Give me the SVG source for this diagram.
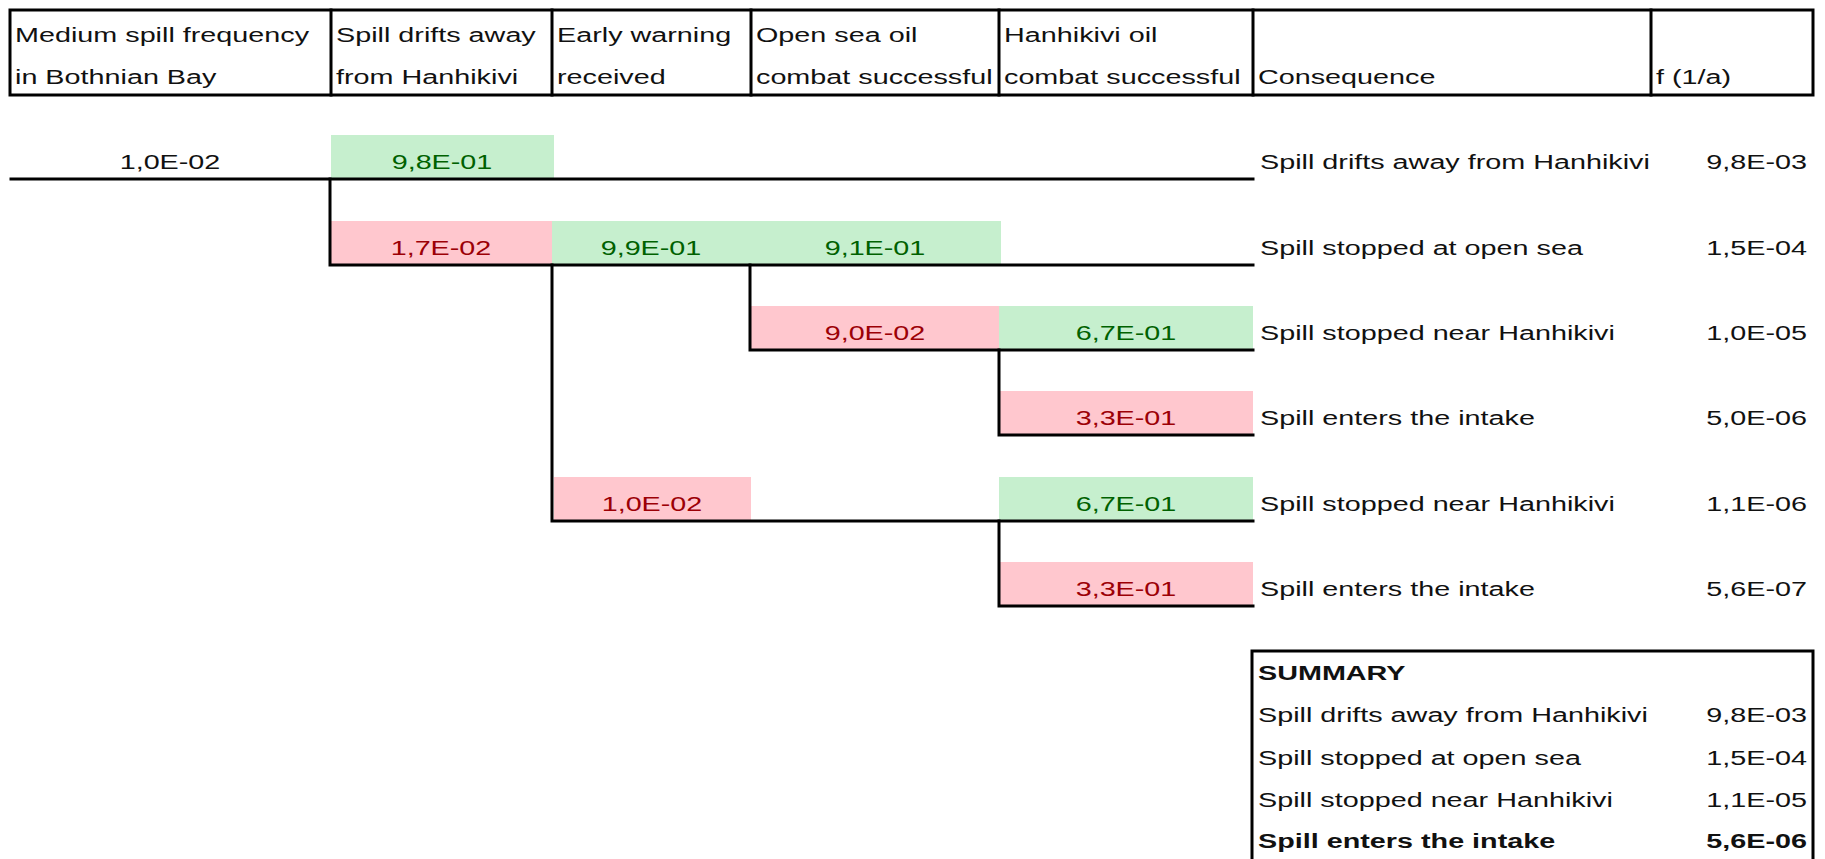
<svg xmlns="http://www.w3.org/2000/svg" width="1825" height="859" viewBox="0 0 1825 859">
<style>
.t{font-family:"Liberation Sans",Arial,sans-serif;font-size:21px;fill:#111}
.b{font-weight:bold}
.m{text-anchor:middle}
.e{text-anchor:end}
.g{fill:#006100}
.r{fill:#9C0006}
.gb{fill:#C6EFCE}
.pb{fill:#FFC7CE}
.ln{stroke:#000;stroke-width:3;fill:none;stroke-linecap:square}
</style>
<rect width="1825" height="859" fill="#fff"/>
<g id="header">
<rect x="10" y="10" width="1803" height="85" class="ln"/>
<path class="ln" d="M331 10V95M552 10V95M751 10V95M999 10V95M1253 10V95M1651 10V95"/>
<text class="t" transform="translate(15,42) scale(1.37,1)">Medium spill frequency</text>
<text class="t" transform="translate(15,84) scale(1.37,1)">in Bothnian Bay</text>
<text class="t" transform="translate(336,42) scale(1.37,1)">Spill drifts away</text>
<text class="t" transform="translate(336,84) scale(1.37,1)">from Hanhikivi</text>
<text class="t" transform="translate(557,42) scale(1.37,1)">Early warning</text>
<text class="t" transform="translate(557,84) scale(1.37,1)">received</text>
<text class="t" transform="translate(756,42) scale(1.37,1)">Open sea oil</text>
<text class="t" transform="translate(756,84) scale(1.37,1)">combat successful</text>
<text class="t" transform="translate(1004,42) scale(1.37,1)">Hanhikivi oil</text>
<text class="t" transform="translate(1004,84) scale(1.37,1)">combat successful</text>
<text class="t" transform="translate(1258,84) scale(1.37,1)">Consequence</text>
<text class="t" transform="translate(1656,84) scale(1.37,1)">f (1/a)</text>
</g>
<g id="row1">
<rect class="gb" x="331" y="135" width="223" height="44"/>
<text class="t m" transform="translate(170,169) scale(1.37,1)">1,0E-02</text>
<text class="t m g" transform="translate(442,169) scale(1.37,1)">9,8E-01</text>
<text class="t" transform="translate(1260,169) scale(1.37,1)">Spill drifts away from Hanhikivi</text>
<text class="t e" transform="translate(1807,169) scale(1.37,1)">9,8E-03</text>
</g>
<g id="row2">
<rect class="pb" x="331" y="221" width="221" height="44"/>
<rect class="gb" x="552" y="221" width="449" height="44"/>
<text class="t m r" transform="translate(441,255) scale(1.37,1)">1,7E-02</text>
<text class="t m g" transform="translate(651,255) scale(1.37,1)">9,9E-01</text>
<text class="t m g" transform="translate(875,255) scale(1.37,1)">9,1E-01</text>
<text class="t" transform="translate(1260,255) scale(1.37,1)">Spill stopped at open sea</text>
<text class="t e" transform="translate(1807,255) scale(1.37,1)">1,5E-04</text>
</g>
<g id="row3">
<rect class="pb" x="750" y="306" width="249" height="44"/>
<rect class="gb" x="999" y="306" width="254" height="44"/>
<text class="t m r" transform="translate(875,340) scale(1.37,1)">9,0E-02</text>
<text class="t m g" transform="translate(1126,340) scale(1.37,1)">6,7E-01</text>
<text class="t" transform="translate(1260,340) scale(1.37,1)">Spill stopped near Hanhikivi</text>
<text class="t e" transform="translate(1807,340) scale(1.37,1)">1,0E-05</text>
</g>
<g id="row4">
<rect class="pb" x="999" y="391" width="254" height="44"/>
<text class="t m r" transform="translate(1126,425) scale(1.37,1)">3,3E-01</text>
<text class="t" transform="translate(1260,425) scale(1.37,1)">Spill enters the intake</text>
<text class="t e" transform="translate(1807,425) scale(1.37,1)">5,0E-06</text>
</g>
<g id="row5">
<rect class="pb" x="554" y="477" width="197" height="44"/>
<rect class="gb" x="999" y="477" width="254" height="44"/>
<text class="t m r" transform="translate(652,511) scale(1.37,1)">1,0E-02</text>
<text class="t m g" transform="translate(1126,511) scale(1.37,1)">6,7E-01</text>
<text class="t" transform="translate(1260,511) scale(1.37,1)">Spill stopped near Hanhikivi</text>
<text class="t e" transform="translate(1807,511) scale(1.37,1)">1,1E-06</text>
</g>
<g id="row6">
<rect class="pb" x="999" y="562" width="254" height="44"/>
<text class="t m r" transform="translate(1126,596) scale(1.37,1)">3,3E-01</text>
<text class="t" transform="translate(1260,596) scale(1.37,1)">Spill enters the intake</text>
<text class="t e" transform="translate(1807,596) scale(1.37,1)">5,6E-07</text>
</g>
<g id="connectors">
<path class="ln" d="M11 179H1253"/>
<path class="ln" d="M330 179V265H1253"/>
<path class="ln" d="M750 265V350H1253"/>
<path class="ln" d="M999 350V435H1253"/>
<path class="ln" d="M552 265V521H1253"/>
<path class="ln" d="M999 521V606H1253"/>
</g>
<g id="summary">
<path class="ln" d="M1252 870V651H1813V870"/>
<text class="t b" transform="translate(1258,680) scale(1.37,1)">SUMMARY</text>
<text class="t" transform="translate(1258,722) scale(1.37,1)">Spill drifts away from Hanhikivi</text>
<text class="t e" transform="translate(1807,722) scale(1.37,1)">9,8E-03</text>
<text class="t" transform="translate(1258,765) scale(1.37,1)">Spill stopped at open sea</text>
<text class="t e" transform="translate(1807,765) scale(1.37,1)">1,5E-04</text>
<text class="t" transform="translate(1258,807) scale(1.37,1)">Spill stopped near Hanhikivi</text>
<text class="t e" transform="translate(1807,807) scale(1.37,1)">1,1E-05</text>
<text class="t b" transform="translate(1258,848) scale(1.37,1)">Spill enters the intake</text>
<text class="t b e" transform="translate(1807,848) scale(1.37,1)">5,6E-06</text>
</g>
</svg>
